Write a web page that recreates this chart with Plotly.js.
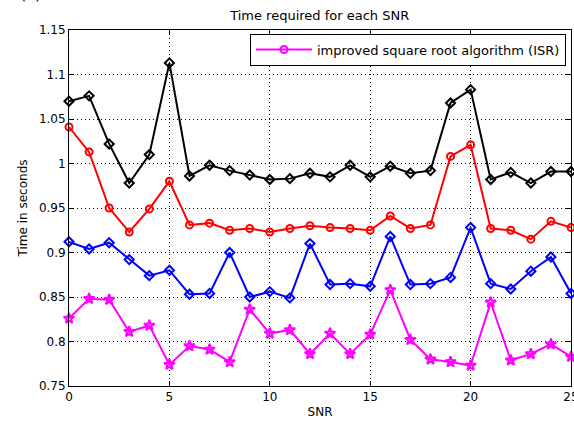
<!DOCTYPE html>
<html>
<head>
<meta charset="utf-8">
<script src="https://cdn.plot.ly/plotly-3.0.1.min.js"></script>
<style>html,body{margin:0;padding:0;background:#fff;}#chart{width:574px;height:423px;}</style>
</head>
<body>
<div id="chart"></div>
<script>
const snr = [0,1,2,3,4,5,6,7,8,9,10,11,12,13,14,15,16,17,18,19,20,21,22,23,24,25];
const blackSeries = [1.070,1.076,1.022,0.978,1.010,1.113,0.986,0.998,0.992,0.987,0.982,0.983,0.989,0.985,0.998,0.985,0.997,0.989,0.992,1.068,1.083,0.982,0.990,0.978,0.991,0.991];
const redSeries = [1.041,1.013,0.950,0.923,0.949,0.980,0.931,0.933,0.925,0.927,0.923,0.927,0.930,0.928,0.927,0.925,0.941,0.927,0.931,1.008,1.021,0.927,0.925,0.915,0.935,0.928];
const blueSeries = [0.912,0.904,0.911,0.892,0.874,0.880,0.853,0.854,0.900,0.850,0.856,0.849,0.910,0.864,0.865,0.862,0.918,0.864,0.865,0.872,0.928,0.865,0.859,0.879,0.895,0.854];
const magentaSeries = [0.826,0.848,0.847,0.811,0.818,0.774,0.795,0.791,0.777,0.836,0.809,0.813,0.786,0.809,0.786,0.808,0.858,0.802,0.780,0.777,0.773,0.844,0.779,0.786,0.797,0.783];
const legendName = "improved square root algorithm (ISR)";
const xTicks = [0,5,10,15,20,25];
const xTickText = ["0","5","10","15","20","25"];
const yTicks = [0.75,0.8,0.85,0.9,0.95,1,1.05,1.1,1.15];
const yTickText = ["0.75","0.8","0.85","0.9","0.95","1","1.05","1.1","1.15"];

const FONT = 'DejaVu Sans, Verdana, sans-serif';

function series(y, color, symbol, size) {
  return {
    x: snr, y: y, type: 'scatter', mode: 'lines+markers', showlegend: false,
    line: {color: color, width: 2},
    marker: {symbol: symbol, size: size, color: color, line: {color: color, width: 2}},
    cliponaxis: false, hoverinfo: 'skip'
  };
}

const traces = [
  series(blackSeries, '#000000', 'diamond-open', 7),
  series(redSeries, '#ff0000', 'circle-open', 7),
  series(blueSeries, '#0000ff', 'diamond-open', 7),
  series(magentaSeries, '#ff00ff', 'star-open', 8),
  {
    x: [null], y: [null], type: 'scatter', mode: 'lines+markers', name: legendName,
    line: {color: '#ff00ff', width: 2},
    marker: {symbol: 'circle-open', size: 7, color: '#ff00ff', line: {color: '#ff00ff', width: 2}},
    showlegend: true
  }
];

const axisCommon = {
  showline: true, linecolor: '#000', linewidth: 1, mirror: 'ticks',
  ticks: 'inside', ticklen: 5, tickcolor: '#000',
  showgrid: true, gridcolor: '#000', gridwidth: 1, griddash: '1px,3px',
  zeroline: false, tickmode: 'array', ticklabeloverflow: 'allow',
  tickfont: {family: FONT, size: 12, color: '#000'}
};

const layout = {
  width: 574, height: 423,
  margin: {l: 69, r: 3, t: 30, b: 37},
  paper_bgcolor: '#fff', plot_bgcolor: '#fff',
  font: {family: FONT, color: '#000'},
  title: {text: 'Time required for each SNR', font: {family: FONT, size: 13, color: '#000'}, x: 0.557, xanchor: 'center', y: 0.964, yanchor: 'middle'},
  xaxis: Object.assign({}, axisCommon, {
    range: [0, 25], tickvals: xTicks, ticktext: xTickText,
    title: {text: 'SNR', font: {family: FONT, size: 12, color: '#000'}, standoff: 4}
  }),
  yaxis: Object.assign({}, axisCommon, {
    range: [0.75, 1.15], tickvals: yTicks, ticktext: yTickText,
    title: {text: 'Time in seconds', font: {family: FONT, size: 12, color: '#000'}, standoff: 8}
  }),
  showlegend: true,
  legend: {
    x: 0.99, xanchor: 'right', y: 0.99, yanchor: 'top',
    bgcolor: '#fff', bordercolor: '#000', borderwidth: 1,
    font: {family: FONT, size: 13, color: '#000'}, itemwidth: 56, tracegroupgap: 0
  },
  annotations: [{
    text: '(c)', xref: 'paper', yref: 'paper', x: -0.0757, y: 1.07,
    xanchor: 'center', yanchor: 'bottom', showarrow: false,
    font: {family: FONT, size: 16, color: '#000'}
  }]
};

Plotly.newPlot('chart', traces, layout, {staticPlot: true, displayModeBar: false});
</script>
</body>
</html>
